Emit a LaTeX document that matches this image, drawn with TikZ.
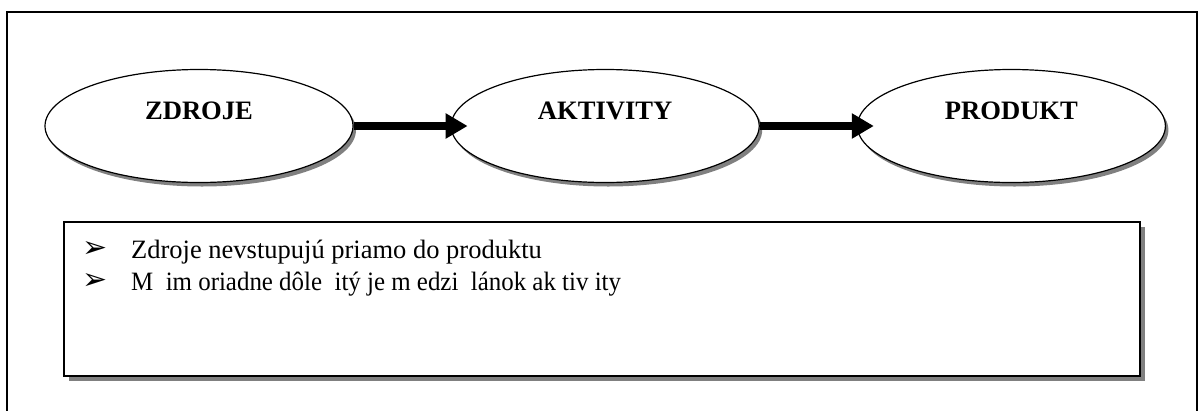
\documentclass[tikz,border=0pt]{standalone}
\usepackage{fontspec}
\setmainfont{Liberation Serif}
\newfontfamily\bulletfont{DejaVu Sans}
\newfontfamily\narrowserif[FakeStretch=0.94]{Liberation Serif}
\usetikzlibrary{
    arrows.meta,
    positioning,
    shadows,
    shapes.geometric
}

\begin{document}
\begin{tikzpicture}[
    x=1pt, y=-1pt,
    stagenode/.style = {ellipse, draw=black, fill=white, line width=1.2pt,
                        minimum width=308pt, minimum height=113pt,
                        font=\fontsize{26.6}{30}\selectfont\bfseries,
                        text height=18pt, text depth=32pt,
                        drop shadow={shadow xshift=3pt, shadow yshift=-4pt,
                                     fill=black!50, opacity=1}},
    flowarrow/.style = {line width=7.5pt, -{Triangle[length=22pt, width=24pt]}},
    notebox/.style = {rectangle, draw=black, fill=white, line width=1.6pt,
                      minimum width=1076pt, minimum height=154pt,
                      drop shadow={shadow xshift=5pt, shadow yshift=-5pt,
                                   fill=black!50, opacity=1}},
    bulletmark/.style = {font=\bulletfont\fontsize{30}{32}\selectfont, inner sep=0pt},
    itemtext/.style = {anchor=base west, inner sep=0pt,
                       font=\fontsize{26.5}{30}\selectfont}
]
    \useasboundingbox (0,0) rectangle (1198,410);

    % outer frame, open at the bottom
    \draw[line width=1.6pt] (7,420) -- (7,12) -- (1197,12) -- (1197,420);

    \node[stagenode] (zdroje) at (199,126) {ZDROJE};
    \node[stagenode] (aktivity) [right=97pt of zdroje] {AKTIVITY};
    \node[stagenode] (produkt) [right=97pt of aktivity] {PRODUKT};

    \draw[flowarrow] (zdroje.east) -- ([xshift=17pt]aktivity.west);
    \draw[flowarrow] (aktivity.east) -- ([xshift=17pt]produkt.west);

    \node[notebox] (notes) at (602,299) {};

    \node[bulletmark] (b1) at (95,249) {➢};
    \node[itemtext] (t1) at (131,258) {Zdroje nevstupujú priamo do produktu};
    \node[bulletmark] (b2) at (95,281) {➢};
    \node[itemtext, font=\narrowserif\fontsize{26.5}{30}\selectfont] (t2) at (131,290)
        {M\ \ im oriadne dôle\ \ itý je m edzi\ \ lánok ak tiv ity};

\end{tikzpicture}
\end{document}
